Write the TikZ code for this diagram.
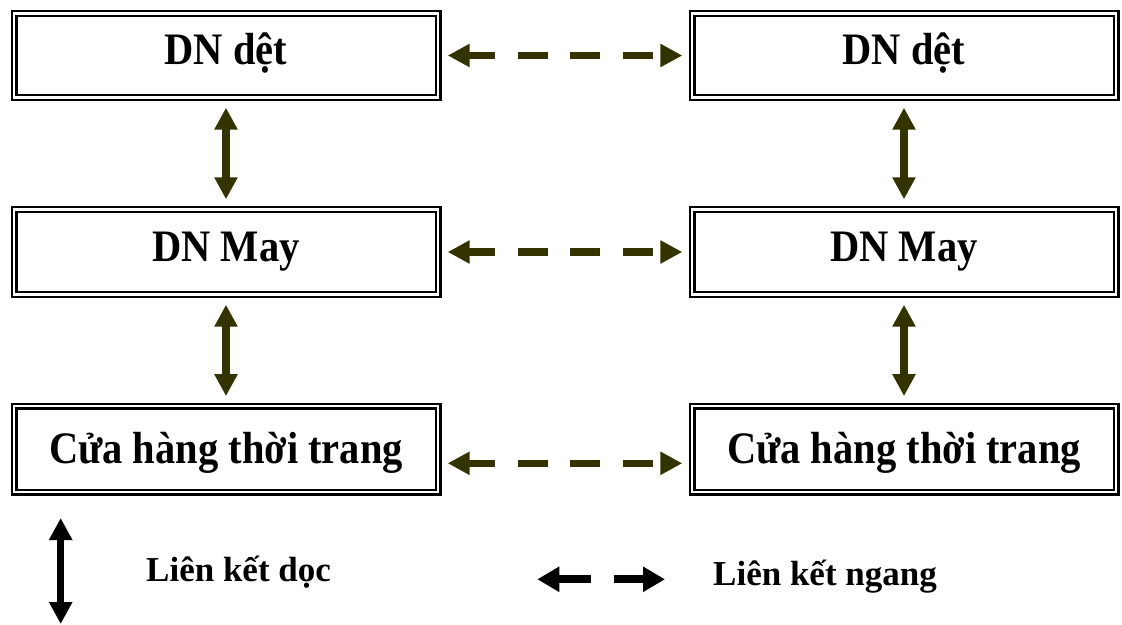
\documentclass[tikz,border=0pt]{standalone}
\usepackage{fontspec}
\setmainfont{Liberation Serif}
\newfontfamily\boxfont[FakeStretch=0.9]{Liberation Serif}
\usetikzlibrary{arrows.meta}
\definecolor{linkolive}{RGB}{51,51,0}

\begin{document}
\begin{tikzpicture}[x=1pt,y=-1pt,
  box/.style 2 args={draw, line width=2.4pt, double=white, double distance=2.2pt,
    minimum width=424pt, inner sep=0pt, text height=#1, text depth=#2,
    font=\boxfont\bfseries\fontsize{45}{50}\selectfont},
  hlink/.style={color=linkolive, line width=7.5pt,
    dash pattern=on 30pt off 22.5pt, dash phase=3pt,
    {Triangle[width=22pt,length=22pt]}-{Triangle[width=22pt,length=22pt]},
    shorten <=8.5pt, shorten >=8.5pt},
  vlink/.style={color=linkolive, line width=7.5pt,
    {Triangle[width=22pt,length=22pt]}-{Triangle[width=22pt,length=22pt]},
    shorten <=9pt, shorten >=9pt},
  legend/.style={font=\bfseries\fontsize{35}{40}\selectfont, inner sep=0pt, anchor=base west}
]
\useasboundingbox (0,0) rectangle (1122,624);

% the two chains
\node[box={50.5pt}{33.5pt}] (L1) at (226,55.5) {DN dệt};
\node[box={51.5pt}{33.5pt}] (L2) at (226,252)  {DN May};
\node[box={56.8pt}{29.2pt}] (L3) at (226,449.3) {Cửa hàng thời trang};
\node[box={50.5pt}{33.5pt}] (R1) at (904,55.5) {DN dệt};
\node[box={51.5pt}{33.5pt}] (R2) at (904,252)  {DN May};
\node[box={56.8pt}{29.2pt}] (R3) at (904,449.3) {Cửa hàng thời trang};

% vertical links
\draw[vlink] (L1.south) -- (L2.north);
\draw[vlink] (L2.south) -- (L3.north);
\draw[vlink] (R1.south) -- (R2.north);
\draw[vlink] (R2.south) -- (R3.north);

% horizontal links
\draw[hlink] (L1.east) -- (R1.west);
\draw[hlink] (L2.east) -- (R2.west);
\draw[hlink] ([yshift=-14pt]L3.east) -- ([yshift=-14pt]R3.west);

% legend
\coordinate (vtop) at (60.7,518);
\coordinate (vbot) at (60.7,624);
\draw[line width=7pt, {Triangle[width=22pt,length=22pt]}-{Triangle[width=22pt,length=22pt]}] (vtop) -- (vbot);
\node[legend] (vtext) at (146,581.7) {Liên kết dọc};

\coordinate (hleft) at (537.3,579.3);
\coordinate (hright) at (665,579.3);
\draw[line width=8pt, dash pattern=on 33pt off 23pt,
  {Triangle[width=24pt,length=22pt]}-{Triangle[width=24pt,length=22pt]}] (hleft) -- (hright);
\node[legend] (htext) at (713,585) {Liên kết ngang};
\end{tikzpicture}
\end{document}
